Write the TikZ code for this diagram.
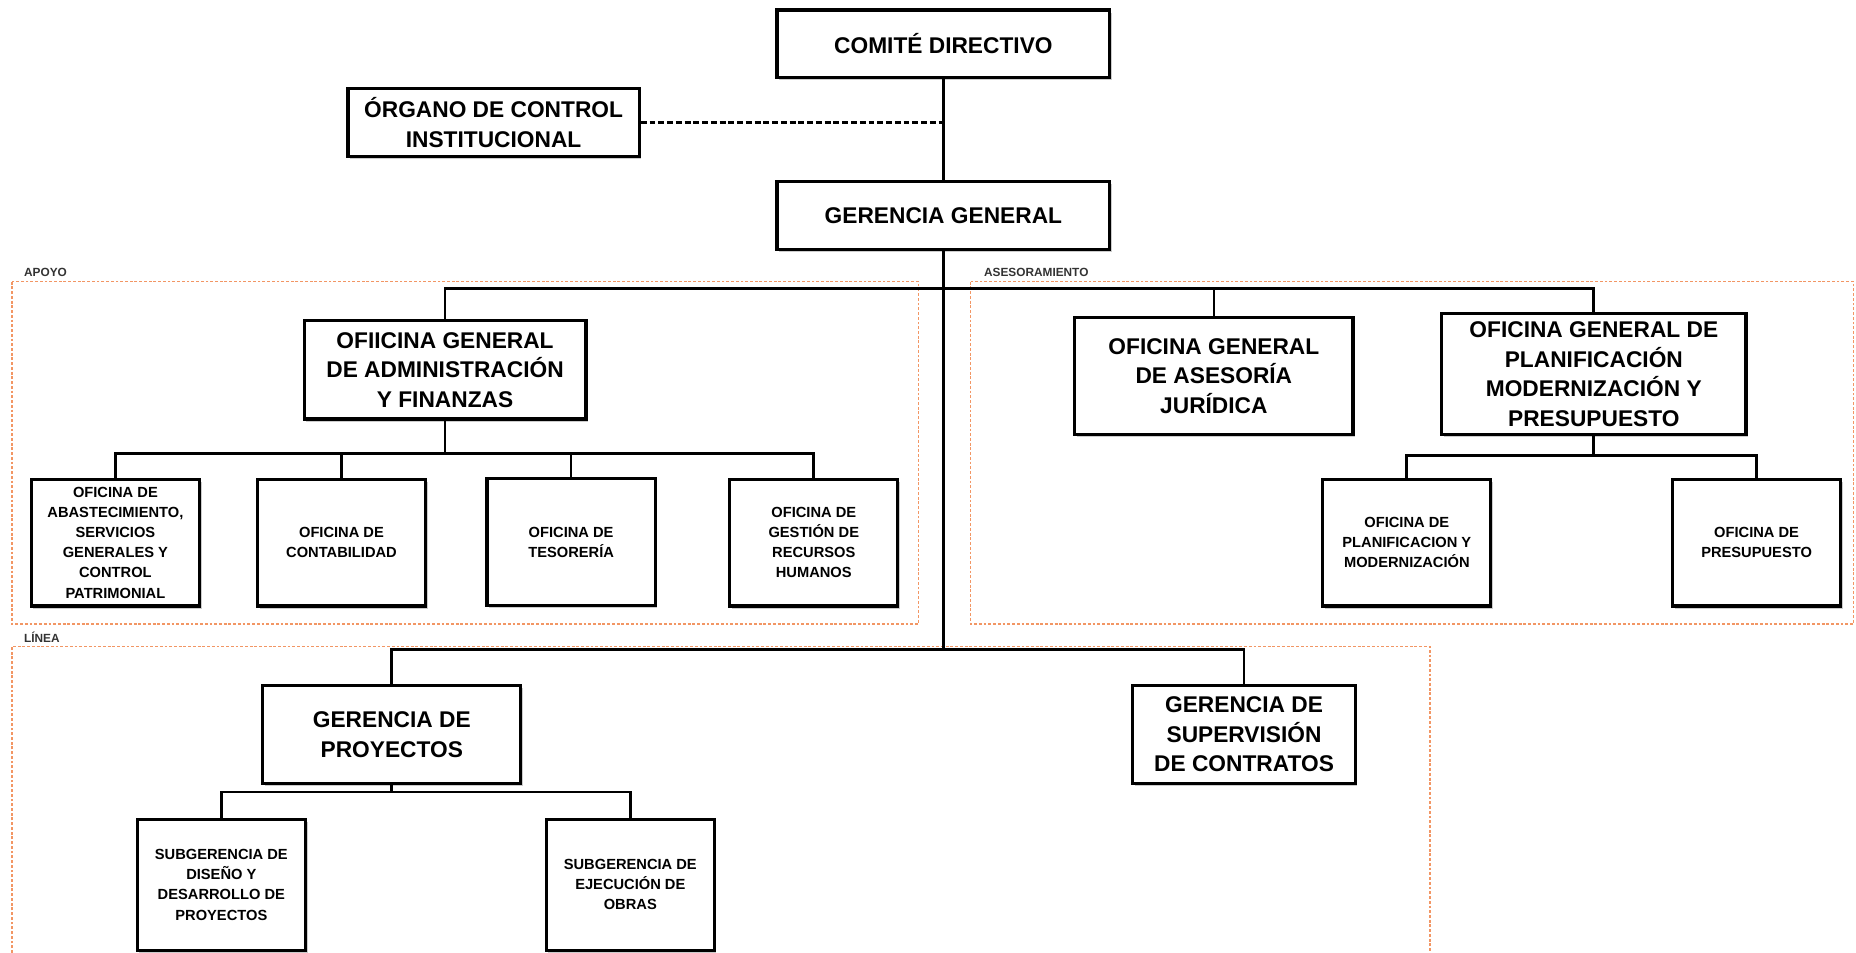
\documentclass[tikz,border=0pt]{standalone}
\usepackage{fontspec}
\setmainfont{Liberation Sans}
\usetikzlibrary{shadows}
\definecolor{zoneorange}{RGB}{242,150,100}

\begin{document}
\begin{tikzpicture}[x=0.5pt,y=-0.5pt,every node/.style={inner sep=0pt},
  bigbox/.style={draw,line width=1.35pt,fill=white,align=center,
    font=\fontsize{9.6}{12.5}\selectfont\bfseries,
    drop shadow={shadow xshift=0.9pt,shadow yshift=-1.1pt,opacity=0.4}},
  smallbox/.style={bigbox,font=\fontsize{6.2}{8.5}\selectfont\bfseries,
    minimum width=71pt,minimum height=53.5pt},
  zone/.style={draw=zoneorange,line width=0.65pt,dash pattern=on 1.2pt off 0.8pt},
  zonelabel/.style={anchor=west,font=\fontsize{5}{6}\selectfont\bfseries,text=black!80},
  link/.style={line width=1.15pt}]
\useasboundingbox (0,0) rectangle (1568,805);
% zones
\draw[zone] (10,238) rectangle (776,527);
\draw[zone] (820,238) rectangle (1566,527);
\draw[zone] (10,805) -- (10,546) -- (1208,546) -- (1208,805);
\node[zonelabel](apoyo) at (20,230){APOYO};
\node[zonelabel](aseso) at (831,230){ASESORAMIENTO};
\node[zonelabel](linea) at (20,538){LÍNEA};
% top
\node[bigbox,minimum width=140.5pt,minimum height=28.5pt](comite) at (797,37){COMITÉ DIRECTIVO};
\node[bigbox,minimum width=123pt,minimum height=28.5pt](organo) at (417,103.5){ÓRGANO DE CONTROL\\INSTITUCIONAL};
\node[bigbox,minimum width=140.5pt,minimum height=29pt](gerencia) at (797,182){GERENCIA GENERAL};
% apoyo
\node[bigbox,minimum width=119pt,minimum height=41.5pt](ogaf) at (376,312.5){OFIICINA GENERAL\\DE ADMINISTRACIÓN\\Y FINANZAS};
\node[smallbox](abast) at (97.5,458.5){OFICINA DE\\ABASTECIMIENTO,\\SERVICIOS\\GENERALES Y\\CONTROL\\PATRIMONIAL};
\node[smallbox](conta) at (288.5,458.5){OFICINA DE\\CONTABILIDAD};
\node[smallbox](teso) at (482.5,458){OFICINA DE\\TESORERÍA};
\node[smallbox](rrhh) at (687.5,458.5){OFICINA DE\\GESTIÓN DE\\RECURSOS\\HUMANOS};
% asesoramiento
\node[bigbox,minimum width=117.5pt,minimum height=49.5pt](ogaj) at (1025.5,317.5){OFICINA GENERAL\\DE ASESORÍA\\JURÍDICA};
\node[bigbox,minimum width=128.5pt,minimum height=51pt](ogpp) at (1346.5,316){OFICINA GENERAL DE\\PLANIFICACIÓN\\MODERNIZACIÓN Y\\PRESUPUESTO};
\node[smallbox](planmod) at (1188.5,458.5){OFICINA DE\\PLANIFICACION Y\\MODERNIZACIÓN};
\node[smallbox](presup) at (1484,458.5){OFICINA DE\\PRESUPUESTO};
% linea
\node[bigbox,minimum width=109pt,minimum height=41.5pt](gp) at (331,620.5){GERENCIA DE\\PROYECTOS};
\node[bigbox,minimum width=94pt,minimum height=41.5pt](gsc) at (1051,620.5){GERENCIA DE\\SUPERVISIÓN\\DE CONTRATOS};
\node[smallbox,minimum height=55.5pt](sgdd) at (187,747.5){SUBGERENCIA DE\\DISEÑO Y\\DESARROLLO DE\\PROYECTOS};
\node[smallbox,minimum height=55.5pt](sgeo) at (532.5,747.5){SUBGERENCIA DE\\EJECUCIÓN DE\\OBRAS};
% connectors
\coordinate (ctrl) at (797,103.5);
\coordinate (busA) at (797,244);
\coordinate (busL) at (797,549);
\coordinate (busB) at (376,383);
\coordinate (busC) at (1346.5,385);
\coordinate (busD) at (331,669);
\draw[link] (comite) -- (gerencia);
\draw[link,dash pattern=on 2.5pt off 1.2pt] (organo.east) -- (ctrl);
\draw[link] (gerencia) -- (busL);
\draw[link] (ogaf.north) |- (busA) -| (ogpp.north);
\draw[link] (ogaj.north) -- (ogaj.north |- busA);
\draw[link] (ogaf) -- (busB);
\foreach \n in {abast,conta,teso,rrhh} \draw[link] (busB) -| (\n.north);
\draw[link] (ogpp) -- (busC);
\foreach \n in {planmod,presup} \draw[link] (busC) -| (\n.north);
\draw[link] (gp.north) |- (busL) -| (gsc.north);
\draw[link] (gp) -- (busD);
\foreach \n in {sgdd,sgeo} \draw[link] (busD) -| (\n.north);
\end{tikzpicture}
\end{document}
